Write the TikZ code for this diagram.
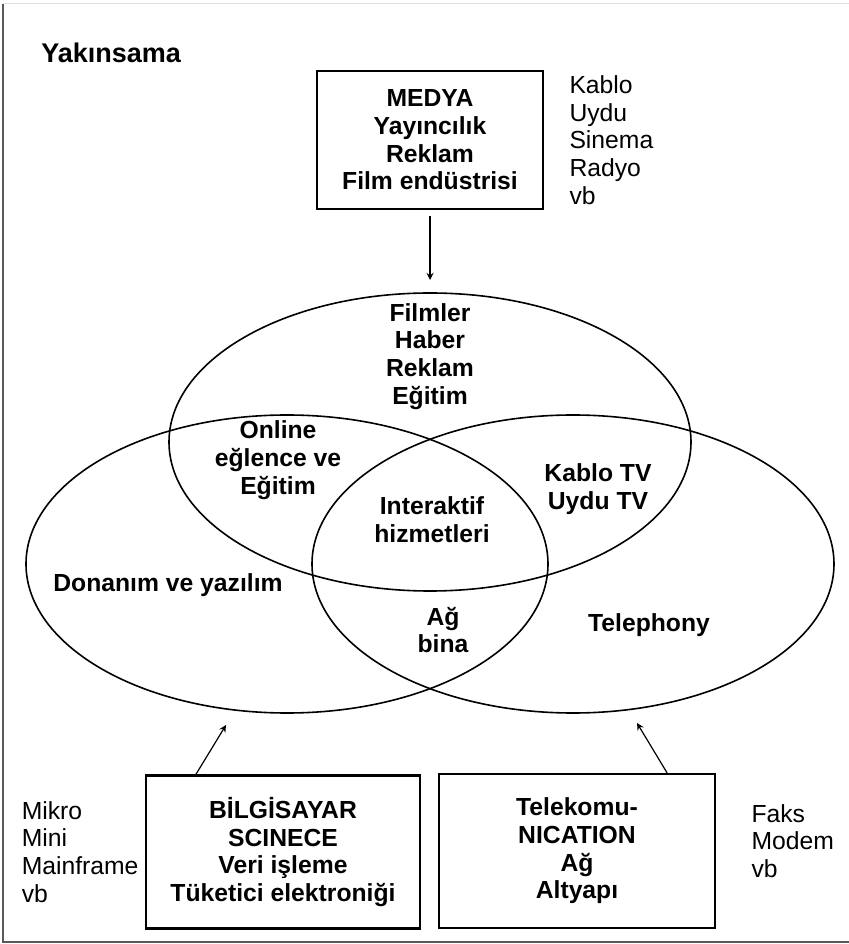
\documentclass[tikz,border=0pt]{standalone}
\usepackage{fontspec}
\setmainfont{Liberation Sans}
\usetikzlibrary{shapes.geometric, positioning, arrows}
\definecolor{frame}{rgb}{0.35,0.35,0.35}
\tikzset{
    >=stealth, % small filled arrowheads
    every node/.style={font=\fontsize{12.35}{13.85}\selectfont},
    venn/.style={draw, ellipse, line width=0.8pt, minimum width=261pt, minimum height=149pt, inner sep=0pt}, % the three sets
    field/.style={draw, line width=1.1pt, align=center, font=\fontsize{12.35}{13.85}\selectfont\bfseries},
    zone/.style={align=center, font=\fontsize{12.35}{13.85}\selectfont\bfseries}, % text inside the sets
    side list/.style={align=left, inner sep=0pt},
    feed/.style={->, line width=0.6pt},
}

\begin{document}
\begin{tikzpicture}[x=0.5pt, y=0.5pt]
    \useasboundingbox (0,0) rectangle (849,944);
    % page frame
    \draw[frame, line width=1pt] (3,940) -- (3,2) -- (849,2);
    \draw[black!12, line width=0.5pt] (3,940) -- (849,940);

    \node[anchor=west, inner sep=0pt, font=\fontsize{13.5}{15}\selectfont\bfseries] (title) at (41,891) {Yakınsama};

    % top box
    \node[field, minimum width=113pt, minimum height=69pt] (medya) at (430,804) {MEDYA\\Yayıncılık\\Reklam\\Film endüstrisi};
    \node[side list, right=12.5pt of medya] (medyaex) {Kablo\\Uydu\\Sinema\\Radyo\\vb};

    % sets
    \node[venn] (media) at (430,502) {};
    \node[venn] (comp) at (287,380) {};
    \node[venn] (tele) at (573,380) {};

    \node[zone] (filmler) at (430,587.5) {Filmler\\Haber\\Reklam\\Eğitim};
    \node[zone] (online) at (278,484) {Online\\eğlence ve\\Eğitim};
    \node[zone] (kablotv) at (598,455) {Kablo TV\\Uydu TV};
    \node[zone] (interaktif) at (432,424) {Interaktif\\hizmetleri};
    \node[zone] (donanim) at (168,359) {Donanım ve yazılım};
    \node[zone] (ag) at (443,314) {Ağ\\bina};
    \node[zone] (telephony) at (649,319) {Telephony};

    % bottom boxes
    \node[field, minimum width=137pt, minimum height=76.5pt] (bilgi) at (283,92) {BİLGİSAYAR\\SCINECE\\Veri işleme\\Tüketici elektroniği};
    \node[field, minimum width=138pt, minimum height=77pt] (telekom) at (577,93) {Telekomu-\\NICATION\\Ağ\\Altyapı};
    \node[side list, left=3pt of bilgi] (bilgiex) {Mikro\\Mini\\Mainframe\\vb};
    \node[side list, right=17.5pt of telekom, yshift=5pt] (telekomex) {Faks\\Modem\\vb};

    % arrows into the sets
    \coordinate (mediain) at (430,664);
    \coordinate (compin) at (226,219);
    \coordinate (telein) at (637,221);
    \draw[feed, shorten <=3pt] (medya) -- (mediain);
    \draw[feed] ([xshift=25.5pt]bilgi.north west) -- (compin);
    \draw[feed] ([xshift=-24.5pt]telekom.north east) -- (telein);
\end{tikzpicture}
\end{document}
